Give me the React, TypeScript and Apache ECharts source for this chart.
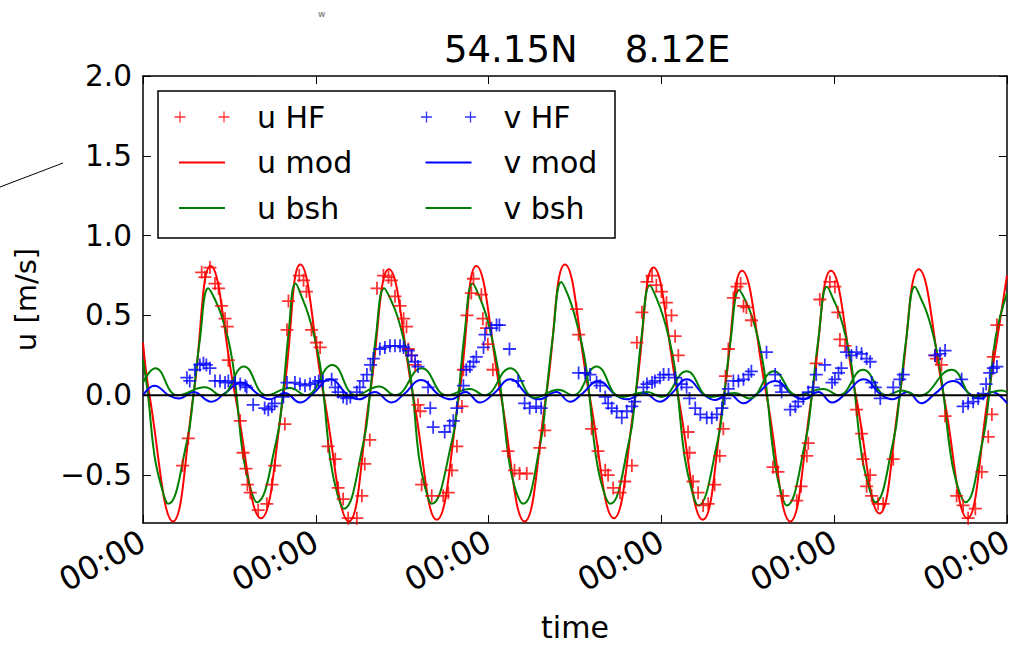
import React, { useEffect, useRef } from 'react';
import * as echarts from 'echarts';

// ---- data (time in hours from the first 00:00 tick, velocities in m/s) ----
const xTickHours = [0, 24, 48, 72, 96, 120];
const xTickLabel = '00:00';
const yTickValues = [-0.5, 0, 0.5, 1.0, 1.5, 2.0];

const uMod: [number, number][] = [
  [0, 0.33], [0.9, 0], [4.17, -0.79], [7.0, 0], [9.4, 0.81], [12.8, 0], [16.4, -0.77], [19.5, 0],
  [21.85, 0.82], [25.1, 0], [28.6, -0.79], [31.5, 0], [34.15, 0.79], [37.5, 0], [40.8, -0.78], [43.9, 0],
  [46.3, 0.81], [49.7, 0], [53.0, -0.79], [56.0, 0], [58.6, 0.82], [62.0, 0], [65.4, -0.77], [68.4, 0],
  [70.9, 0.8], [74.3, 0], [77.75, -0.78], [80.7, 0], [83.2, 0.78], [86.6, 0], [89.9, -0.79], [92.9, 0],
  [95.55, 0.78], [99.0, 0], [102.3, -0.74], [105.1, 0], [107.75, 0.79], [111.2, 0], [114.5, -0.77],
  [117.4, 0], [120, 0.75],
];

const uBsh: [number, number][] = [
  [0, 0.22], [0.7, 0], [1.6, -0.38], [2.6, -0.58], [3.5, -0.68], [6.1, -0.29], [7.0, 0], [7.9, 0.35],
  [9.07, 0.67], [10.0, 0.6], [10.9, 0.5], [11.85, 0.35], [12.5, 0.19], [13.0, 0], [13.9, -0.38], [14.9, -0.58], [15.8, -0.67],
  [18.5, -0.29], [19.4, 0], [20.2, 0.38], [21.2, 0.7], [22.1, 0.61], [23.0, 0.5], [23.9, 0.35], [24.6, 0.19], [25.1, 0], [26.0, -0.4], [27.0, -0.62], [27.9, -0.71],
  [30.6, -0.3], [31.5, 0], [32.3, 0.35], [33.5, 0.67], [34.4, 0.6], [35.3, 0.5], [36.2, 0.35], [36.9, 0.19], [37.5, 0], [38.3, -0.38], [39.2, -0.58], [40.1, -0.68],
  [42.9, -0.29], [43.8, 0], [44.6, 0.36], [45.8, 0.7], [46.7, 0.62], [47.6, 0.51], [48.5, 0.35], [49.2, 0.19], [49.8, 0], [50.8, -0.4], [51.8, -0.6], [52.8, -0.68],
  [55.2, -0.3], [56.0, 0], [56.9, 0.36], [58.1, 0.71], [59.0, 0.63], [59.9, 0.51], [60.8, 0.35], [61.5, 0.19], [62.0, 0], [62.9, -0.38], [63.9, -0.59], [64.9, -0.68],
  [67.5, -0.29], [68.4, 0], [69.2, 0.35], [70.4, 0.69], [71.3, 0.61], [72.2, 0.5], [73.1, 0.35], [73.8, 0.19], [74.3, 0], [75.2, -0.38], [76.2, -0.59], [77.1, -0.69],
  [79.8, -0.29], [80.7, 0], [81.6, 0.34], [82.8, 0.66], [83.7, 0.59], [84.6, 0.49], [85.5, 0.34], [86.2, 0.18], [86.7, 0], [87.6, -0.38], [88.5, -0.59], [89.4, -0.69],
  [92.0, -0.29], [92.9, 0], [93.8, 0.35], [95.0, 0.68], [95.9, 0.6], [96.8, 0.5], [97.7, 0.35], [98.4, 0.19], [98.9, 0], [99.8, -0.37], [100.8, -0.57], [101.7, -0.67],
  [104.2, -0.29], [105.1, 0], [106.0, 0.35], [107.2, 0.68], [108.1, 0.6], [109.0, 0.5], [109.9, 0.35], [110.6, 0.19], [111.2, 0], [112.2, -0.38], [113.2, -0.58], [114.2, -0.67],
  [116.6, -0.29], [117.5, 0], [118.4, 0.36], [120, 0.64],
];

const vMod: [number, number][] = [
  [0, 0.0], [1.6, 0.06], [3.6, 0.0], [5.0, -0.02], [7.0, 0.02], [9.5, -0.04], [11.3, 0.01], [13.6, 0.08],
  [16.2, 0.0], [17.6, -0.025], [19.7, 0.015], [21.8, -0.045], [23.6, 0.01], [26.0, 0.1],
  [28.5, 0.0], [30.0, -0.025], [32.2, 0.02], [34.5, -0.045], [36.3, 0.01], [38.6, 0.095],
  [41.2, 0.0], [42.8, -0.025], [44.8, 0.02], [46.8, -0.045], [48.7, 0.01], [51.0, 0.1],
  [53.5, 0.0], [55.0, -0.025], [57.4, 0.02], [59.3, -0.04], [61.0, 0.01], [63.2, 0.09],
  [65.7, 0.0], [67.3, -0.025], [69.5, 0.015], [71.8, -0.04], [73.4, 0.01], [75.5, 0.1],
  [78.0, 0.0], [79.5, -0.03], [81.3, 0.01], [83.4, -0.05], [85.3, 0.01], [87.8, 0.09],
  [90.3, 0.0], [91.8, -0.025], [93.8, 0.02], [95.7, -0.045], [97.6, 0.01], [100.1, 0.1],
  [102.6, 0.0], [104.1, -0.025], [106.2, 0.02], [108.1, -0.05], [110.0, 0.01], [112.5, 0.09],
  [115.1, 0.0], [116.4, -0.02], [117.9, 0.02], [120, -0.05],
];

const vBsh: [number, number][] = [
  [0, 0.08], [1.7, 0.17], [4.8, 0.0], [8.6, 0.05], [10.8, 0.0], [14.0, 0.18],
  [17.2, 0.0], [20.4, 0.045], [22.6, 0.0], [26.3, 0.19],
  [29.6, 0.0], [32.8, 0.055], [35.0, 0.0], [38.7, 0.17],
  [42.2, 0.0], [45.4, 0.04], [47.4, 0.0], [51.0, 0.17],
  [54.5, -0.015], [57.7, 0.035], [59.7, 0.0], [63.0, 0.18],
  [66.4, -0.01], [70.0, 0.02], [72.0, -0.01], [75.5, 0.15],
  [78.8, -0.01], [82.2, 0.015], [84.2, -0.02], [87.6, 0.15],
  [90.9, 0.0], [94.5, 0.04], [96.6, 0.0], [100.0, 0.16],
  [103.3, 0.0], [105.4, 0.03], [107.7, -0.005], [112.3, 0.16],
  [115.6, -0.01], [119.2, 0.03], [120, 0.02],
];

const uHF: [number, number][] = [
  [5.5, -0.44], [6.3, -0.27], [8.15, 0.77], [8.6, 0.74], [9.3, 0.8], [10.0, 0.7], [10.5, 0.67], [10.9, 0.56],
  [11.4, 0.48], [11.7, 0.43], [11.85, 0.22], [13.5, -0.16], [13.9, -0.36], [14.3, -0.46], [14.5, -0.56],
  [14.9, -0.61], [16.0, -0.72], [17.2, -0.68], [17.9, -0.56], [18.3, -0.44], [19.7, -0.18], [20.0, 0.41], [20.2, 0.59],
  [21.7, 0.75], [22.3, 0.72], [22.7, 0.65], [23.4, 0.41], [24.1, 0.33], [24.6, 0.3], [25.7, -0.32], [26.7, -0.4],
  [27.1, -0.58], [27.8, -0.65], [28.5, -0.77], [29.7, -0.77], [30.4, -0.63], [30.8, -0.43], [31.5, -0.28],
  [32.5, 0.67], [33.4, 0.75], [34.1, 0.74], [34.5, 0.72], [35.0, 0.62], [35.7, 0.56], [36.2, 0.48], [36.6, 0.43],
  [36.85, 0.29], [37.3, 0.25], [37.8, 0.19], [38.2, -0.06], [38.5, -0.1], [38.7, -0.56], [40.1, -0.63],
  [41.7, -0.63], [42.4, -0.61], [42.9, -0.47], [43.6, -0.32], [44.3, -0.07], [44.5, 0.16], [45.0, 0.5],
  [45.6, 0.64], [45.9, 0.73], [47.0, 0.63], [47.2, 0.48], [47.7, 0.42], [47.9, 0.32], [48.6, 0.16],
  [50.7, -0.35], [51.6, -0.47], [52.3, -0.49], [53.3, -0.49], [55.1, -0.33], [55.8, -0.22],
  [60.2, 0.54], [60.5, 0.38], [62.3, -0.21], [63.2, -0.35], [64.2, -0.47], [64.6, -0.5], [65.3, -0.58],
  [66.25, -0.61], [66.9, -0.54], [67.9, -0.44], [68.6, 0.33], [69.3, 0.52], [70.0, 0.71], [70.7, 0.75],
  [71.3, 0.69], [72.0, 0.65], [72.7, 0.58], [73.4, 0.5], [73.9, 0.37], [74.35, 0.25], [75.7, -0.23],
  [75.9, -0.36], [76.4, -0.54], [77.1, -0.61], [77.8, -0.69], [78.5, -0.68], [79.4, -0.56], [80.1, -0.38],
  [80.6, -0.21], [80.9, 0.12], [81.3, 0.29], [82.0, 0.61], [82.5, 0.68], [83.0, 0.7], [83.4, 0.56], [83.8, 0.55],
  [84.5, 0.47], [87.5, -0.45], [88.2, -0.48], [88.9, -0.63], [90.8, -0.66], [91.4, -0.57], [92.2, -0.38],
  [92.4, -0.3], [93.5, 0.2], [94.0, 0.6], [95.4, 0.71], [96.1, 0.68], [96.5, 0.52], [96.8, 0.35], [97.5, 0.31],
  [99.1, -0.09], [99.8, -0.24], [100.0, -0.4], [100.5, -0.57], [101.0, -0.5], [101.2, -0.63], [102.1, -0.68],
  [102.8, -0.68], [104.2, -0.4], [110.0, 0.25], [110.2, 0.23], [110.9, 0.19], [111.4, -0.13], [113.0, -0.63],
  [113.9, -0.69], [114.6, -0.77], [115.6, -0.71], [116.5, -0.48], [117.4, -0.26], [117.9, -0.12], [118.1, 0.24],
  [118.6, 0.44],
];

const vHF: [number, number][] = [
  [6.1, 0.11], [6.5, 0.09], [7.2, 0.16], [7.9, 0.19], [8.4, 0.2], [8.8, 0.19], [9.3, 0.17], [10.0, 0.09],
  [10.7, 0.09], [11.4, 0.08], [11.85, 0.09], [12.8, 0.08], [13.5, 0.07], [14.2, 0.06], [14.4, 0.05],
  [15.3, -0.06], [16.9, -0.08], [17.4, -0.09], [17.9, -0.07], [18.3, -0.05], [19.5, -0.01], [20.0, 0.08],
  [21.1, 0.08], [21.8, 0.07], [22.5, 0.06], [23.2, 0.07], [23.9, 0.08], [24.4, 0.09], [25.0, 0.09], [26.2, 0.1],
  [26.7, 0.05], [27.1, 0.02], [27.8, -0.01], [28.3, -0.02], [28.8, -0.01], [29.7, 0.02], [30.1, 0.05],
  [30.6, 0.09], [31.1, 0.13], [31.6, 0.19], [32.0, 0.23], [32.9, 0.29], [33.6, 0.3], [34.3, 0.31], [35.0, 0.31],
  [35.7, 0.31], [36.2, 0.3], [36.85, 0.28], [37.3, 0.25], [37.8, 0.21], [38.2, 0.18], [39.6, 0.05],
  [39.9, -0.08], [40.3, -0.2], [41.9, -0.23], [42.6, -0.19], [43.1, -0.16], [43.6, -0.08], [44.5, 0.06],
  [44.9, 0.16], [45.4, 0.18], [45.9, 0.21], [46.3, 0.24], [47.3, 0.3], [47.5, 0.38], [48.4, 0.42], [49.1, 0.44],
  [49.5, 0.44], [50.9, 0.29], [52.1, 0.09], [53.0, -0.05], [53.7, -0.08], [54.6, -0.07], [55.3, -0.08],
  [60.5, 0.14], [61.4, 0.14], [62.1, 0.13], [63.0, 0.08], [63.5, 0.06], [64.2, -0.01], [64.6, -0.05],
  [65.1, -0.08], [65.8, -0.1], [66.5, -0.14], [67.2, -0.1], [67.9, -0.07], [68.3, -0.04], [69.5, 0.05],
  [70.0, 0.07], [70.7, 0.08], [71.1, 0.09], [71.8, 0.11], [72.3, 0.13], [73.0, 0.13], [73.9, 0.11],
  [74.8, 0.07], [75.5, 0.05], [75.9, -0.02], [76.7, -0.08], [77.4, -0.12], [78.3, -0.14], [79.0, -0.14],
  [79.7, -0.12], [80.4, -0.08], [80.8, -0.02], [81.3, 0.04], [82.0, 0.09], [82.7, 0.09], [83.4, 0.1],
  [84.1, 0.13], [84.5, 0.15], [86.6, 0.27], [87.8, 0.13], [88.5, 0.06], [88.7, 0.02], [89.9, -0.09],
  [90.6, -0.07], [91.0, -0.04], [91.7, -0.02], [92.4, 0.02], [93.1, 0.05], [93.5, 0.13], [94.7, 0.19],
  [95.7, 0.08], [96.1, 0.1], [96.6, 0.14], [97.0, 0.17], [97.7, 0.27], [98.4, 0.25], [99.1, 0.27],
  [99.8, 0.26], [100.5, 0.23], [101.0, 0.21], [101.2, 0.08], [101.7, 0.05], [102.4, -0.02], [104.2, 0.05],
  [105.1, 0.1], [105.6, 0.13], [110.0, 0.25], [110.7, 0.26], [111.4, 0.28], [113.7, 0.1], [113.9, -0.07],
  [114.6, -0.05], [115.3, -0.04], [116.0, -0.02], [116.7, 0.01], [117.1, 0.07], [117.6, 0.14], [118.1, 0.17],
  [118.6, 0.18],
];

const zeroLine: [number, number][] = [[0, 0], [120, 0]];

const titleText = '54.15N    8.12E';
const xName = 'time';
const yName = 'u [m/s]';

// ---- styles ----
const FONT = 'DejaVu Sans';
const RED = '#ff0000';
const GREEN = '#008000';
const BLUE = '#0000ff';

const PLUS = 'path://M0,4.75L11,4.75L11,6.25L0,6.25Z M4.75,0L6.25,0L6.25,11L4.75,11Z';
const ICON_HF =
  'path://M0,4.85L11,4.85L11,6.15L0,6.15Z M4.85,0L6.15,0L6.15,11L4.85,11Z M44,4.85L55,4.85L55,6.15L44,6.15Z M48.85,0L50.15,0L50.15,11L48.85,11Z M77.5,11L77.49,11L77.5,10.99Z';
const ICON_LINE = 'path://M0,0L0.01,0L0,0.01Z M4.5,4.5L50.5,4.5L50.5,6.5L4.5,6.5Z M77.5,11L77.49,11L77.5,10.99Z';

const fmtY = (v: number) => (v < 0 ? '\u2212' : '') + Math.abs(v).toFixed(1);

export default function App() {
  const ref = useRef<HTMLDivElement>(null);
  useEffect(() => {
    if (!ref.current) return;
    const chart = echarts.init(ref.current, undefined, { renderer: 'svg' });
    const axisLine = { show: true, onZero: false, lineStyle: { color: '#000', width: 1.5 } };
    const tick = { show: true, inside: true, length: 8, lineStyle: { color: '#000', width: 1 } };
    const legendCommon = {
      orient: 'vertical' as const,
      padding: 0,
      itemWidth: 77.5,
      itemHeight: 11,
      itemGap: 15.5,
      selectedMode: false,
      itemStyle: { borderWidth: 0 },
      textStyle: { fontFamily: FONT, fontSize: 30, color: '#000', lineHeight: 30 },
    };
    const lineSeries = (name: string, data: [number, number][], color: string) => ({
      name,
      type: 'line' as const,
      data,
      smooth: 0.45,
      symbol: 'none',
      showSymbol: false,
      itemStyle: { color },
      lineStyle: { color, width: 2 },
      z: 3,
    });
    const scatterSeries = (name: string, data: [number, number][], color: string) => ({
      name,
      type: 'scatter' as const,
      data,
      symbol: PLUS,
      symbolSize: 13,
      itemStyle: { color },
      z: 3,
    });
    chart.setOption({
      animation: false,
      backgroundColor: '#fff',
      title: {
        text: titleText,
        left: 444,
        top: 31,
        padding: 0,
        textStyle: { fontFamily: FONT, fontSize: 37, fontWeight: 'normal', color: '#000' },
      },
      grid: {
        left: 143,
        right: 9,
        top: 76,
        bottom: 122,
        containLabel: false,
        outerBoundsMode: 'none',
      },
      xAxis: [
        {
          type: 'value',
          min: 0,
          max: 120,
          position: 'bottom',
          axisLine,
          axisTick: { ...tick, customValues: xTickHours },
          axisLabel: {
            customValues: xTickHours,
            formatter: () => xTickLabel,
            rotate: 28,
            margin: 16,
            fontFamily: FONT,
            fontSize: 32,
            color: '#000',
          },
          splitLine: { show: false },
          name: xName,
          nameLocation: 'middle',
          nameGap: 89,
          nameMoveOverlap: false,
          nameTextStyle: { fontFamily: FONT, fontSize: 30, color: '#000' },
        },
        {
          type: 'value',
          min: 0,
          max: 120,
          position: 'top',
          axisLine,
          axisTick: { ...tick, customValues: xTickHours },
          axisLabel: { show: false },
          splitLine: { show: false },
        },
      ],
      yAxis: [
        {
          type: 'value',
          min: -0.8,
          max: 2.0,
          position: 'left',
          axisLine,
          axisTick: { ...tick, customValues: yTickValues },
          axisLabel: {
            customValues: yTickValues,
            formatter: fmtY,
            margin: 11,
            fontFamily: FONT,
            fontSize: 29.5,
            color: '#000',
          },
          splitLine: { show: false },
          name: yName,
          nameLocation: 'middle',
          nameGap: 103,
          nameMoveOverlap: false,
          nameTextStyle: { fontFamily: FONT, fontSize: 29, color: '#000' },
        },
        {
          type: 'value',
          min: -0.8,
          max: 2.0,
          position: 'right',
          axisLine,
          axisTick: { ...tick, customValues: yTickValues },
          axisLabel: { show: false },
          splitLine: { show: false },
        },
      ],
      legend: [
        {
          ...legendCommon,
          left: 174.5,
          top: 102,
          data: [
            { name: 'u HF', icon: ICON_HF },
            { name: 'u mod', icon: ICON_LINE },
            { name: 'u bsh', icon: ICON_LINE },
          ],
        },
        {
          ...legendCommon,
          left: 421,
          top: 102,
          data: [
            { name: 'v HF', icon: ICON_HF },
            { name: 'v mod', icon: ICON_LINE },
            { name: 'v bsh', icon: ICON_LINE },
          ],
        },
      ],
      graphic: [
        {
          type: 'rect',
          shape: { x: 158, y: 91, width: 457, height: 147 },
          style: { fill: '#fff', stroke: '#000', lineWidth: 1.5 },
          z: 1,
        },
        {
          type: 'line',
          shape: { x1: 0, y1: 187, x2: 63, y2: 163 },
          style: { stroke: '#000', lineWidth: 1 },
        },
        {
          type: 'text',
          x: 318,
          y: 9,
          style: { text: 'w', fontSize: 9, fill: '#666', fontFamily: FONT },
        },
      ],
      series: [
        scatterSeries('u HF', uHF, RED),
        lineSeries('u mod', uMod, RED),
        lineSeries('u bsh', uBsh, GREEN),
        scatterSeries('v HF', vHF, BLUE),
        lineSeries('v mod', vMod, BLUE),
        lineSeries('v bsh', vBsh, GREEN),
        {
          name: 'zero',
          type: 'line',
          data: zeroLine,
          symbol: 'none',
          silent: true,
          itemStyle: { color: '#000' },
          lineStyle: { color: '#000', width: 2 },
          z: 4,
        },
      ],
    });
    return () => chart.dispose();
  }, []);
  return (
    <div
      ref={ref}
      style={{ position: 'fixed', left: 0, top: 0, width: 1016, height: 645, background: '#fff' }}
    />
  );
}
